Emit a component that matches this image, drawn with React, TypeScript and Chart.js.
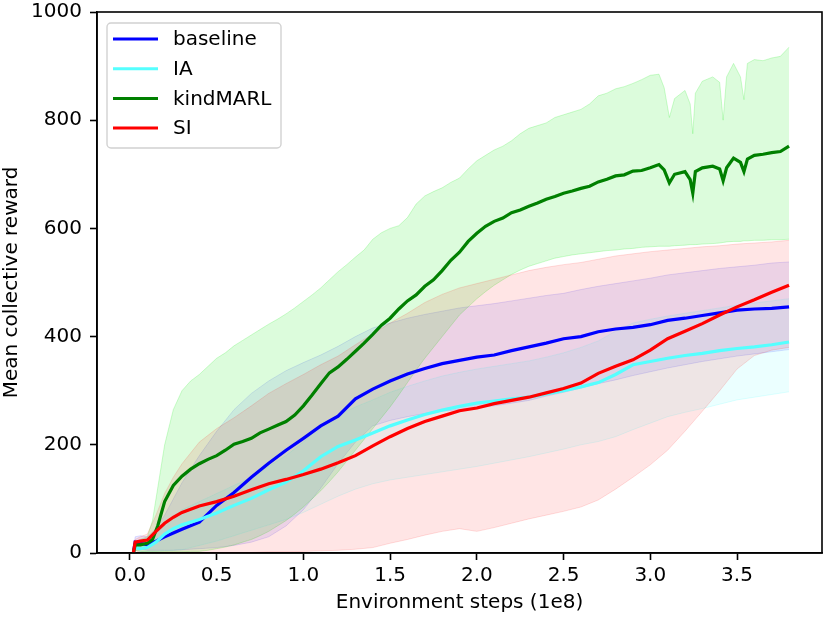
import React, { useEffect, useRef } from "react";
import { Chart, registerables } from "chart.js";

Chart.register(...registerables);

// ---- data (x in units of 1e8 environment steps) ----
const STEPS = [0.02, 0.03, 0.06, 0.1, 0.15, 0.2, 0.25, 0.3, 0.4, 0.5, 0.6, 0.7, 0.8, 0.9, 1.0, 1.1, 1.2, 1.3, 1.4, 1.5, 1.6, 1.7, 1.8, 1.9, 2.0, 2.1, 2.2, 2.3, 2.4, 2.5, 2.6, 2.7, 2.8, 2.9, 3.0, 3.1, 3.2, 3.3, 3.4, 3.5, 3.6, 3.7, 3.8];

const BASE_MEAN = [2, 20, 18, 15, 22, 30, 37, 44, 57, 88, 112, 140, 166, 190, 212, 235, 253, 285, 303, 318, 331, 341, 350, 356, 362, 366, 374, 381, 388, 396, 400, 409, 414, 417, 422, 430, 434, 439, 444, 449, 451, 452, 455];
const BASE_UPPER = [5, 30, 32, 30, 45, 70, 100, 130, 180, 225, 265, 295, 318, 337, 352, 366, 382, 400, 416, 425, 434, 441, 447, 453, 457, 461, 466, 471, 476, 480, 487, 493, 498, 503, 508, 514, 518, 522, 526, 529, 532, 536, 538];
const BASE_LOWER = [0, 10, 8, 5, 5, 5, 5, 6, 8, 10, 14, 20, 30, 50, 80, 120, 165, 205, 235, 245, 252, 258, 262, 265, 268, 272, 277, 282, 290, 297, 305, 313, 320, 328, 335, 342, 348, 354, 359, 364, 368, 372, 376];

const IA_MEAN = [0, 10, 8, 10, 20, 35, 45, 52, 62, 74, 88, 101, 117, 131, 152, 178, 197, 209, 222, 235, 246, 256, 264, 271, 277, 281, 285, 288, 294, 300, 307, 315, 330, 348, 354, 360, 365, 369, 374, 378, 381, 385, 390];
const IA_UPPER = [0, 15, 15, 20, 35, 55, 68, 80, 95, 110, 125, 140, 160, 180, 205, 235, 255, 270, 283, 297, 308, 318, 327, 334, 340, 345, 350, 355, 362, 370, 380, 392, 410, 425, 432, 438, 443, 448, 453, 458, 462, 466, 470];
const IA_LOWER = [0, 5, 3, 3, 3, 4, 5, 6, 14, 22, 32, 42, 52, 62, 75, 90, 105, 118, 128, 135, 140, 145, 150, 155, 160, 166, 172, 178, 185, 192, 200, 206, 215, 228, 240, 252, 260, 267, 275, 283, 288, 293, 298];

const SI_MEAN = [0, 20, 22, 24, 40, 55, 66, 75, 87, 95, 105, 117, 128, 136, 145, 155, 167, 180, 198, 215, 230, 243, 253, 263, 268, 276, 282, 288, 296, 304, 314, 332, 345, 357, 375, 396, 410, 424, 440, 455, 468, 482, 495];
const SI_UPPER = [0, 25, 30, 35, 70, 110, 140, 165, 205, 230, 250, 272, 295, 313, 330, 348, 364, 385, 405, 425, 443, 463, 478, 490, 498, 506, 514, 522, 528, 533, 537, 543, 549, 553, 557, 560, 563, 566, 568, 571, 573, 575, 578];
const SI_LOWER = [0, 5, 0, 0, 0, 0, 0, 0, 0, 0, 0, 1, 2, 2, 3, 4, 5, 7, 10, 18, 25, 33, 40, 45, 40, 47, 55, 63, 70, 77, 85, 98, 118, 140, 163, 190, 225, 262, 300, 340, 365, 375, 380];

const KIND_STEPS = [0.02, 0.03, 0.06, 0.1, 0.13, 0.16, 0.2, 0.25, 0.3, 0.35, 0.4, 0.45, 0.5, 0.55, 0.6, 0.65, 0.7, 0.75, 0.8, 0.85, 0.9, 0.95, 1.0, 1.05, 1.1, 1.15, 1.2, 1.25, 1.3, 1.35, 1.4, 1.45, 1.5, 1.55, 1.6, 1.65, 1.7, 1.75, 1.8, 1.85, 1.9, 1.95, 2.0, 2.05, 2.1, 2.15, 2.2, 2.25, 2.3, 2.35, 2.4, 2.45, 2.5, 2.55, 2.6, 2.65, 2.7, 2.75, 2.8, 2.85, 2.9, 2.95, 3.0, 3.05, 3.08, 3.11, 3.14, 3.2, 3.23, 3.245, 3.26, 3.3, 3.36, 3.4, 3.42, 3.44, 3.48, 3.52, 3.54, 3.56, 3.6, 3.65, 3.7, 3.75, 3.8];
const KIND_MEAN = [0, 15, 15, 18, 25, 50, 95, 125, 142, 155, 165, 173, 180, 190, 201, 206, 212, 222, 229, 236, 243, 255, 272, 292, 313, 333, 344, 358, 373, 388, 404, 421, 434, 451, 466, 477, 493, 505, 522, 541, 556, 576, 591, 604, 613, 619, 629, 634, 641, 647, 654, 659, 665, 669, 674, 678, 686, 691, 697, 699, 706, 707, 712, 718, 708, 684, 700, 705, 690, 665, 705, 712, 715, 710, 688, 712, 730, 722, 705, 728, 735, 737, 740, 742, 752];
const KIND_UPPER = [0, 20, 25, 30, 60, 120, 200, 265, 300, 318, 330, 345, 360, 370, 383, 393, 403, 413, 423, 432, 442, 453, 465, 477, 490, 505, 520, 533, 547, 560, 580, 592, 600, 605, 620, 645, 660, 668, 675, 685, 693, 710, 725, 735, 745, 752, 762, 775, 785, 790, 795, 805, 810, 815, 820, 830, 845, 850, 858, 862, 868, 875, 883, 885, 860, 805, 840, 855, 830, 775, 850, 872, 880, 870, 800, 880, 905, 880, 838, 905, 912, 910, 915, 918, 935];
const KIND_LOWER = [0, 5, 3, 2, 2, 2, 2, 2, 2, 3, 3, 5, 8, 11, 15, 20, 25, 32, 40, 50, 60, 72, 85, 100, 115, 132, 150, 170, 190, 210, 230, 250, 270, 292, 315, 338, 360, 380, 400, 420, 440, 455, 470, 483, 495, 505, 515, 523, 530, 535, 540, 545, 548, 551, 553, 555, 557, 559, 560, 562, 563, 565, 566, 567, 567, 567, 568, 569, 570, 570, 570, 571, 572, 573, 574, 575, 576, 576, 577, 577, 578, 578, 579, 579, 580];

const SERIES_NAMES = ["baseline", "IA", "kindMARL", "SI"];
const X_TICKS = [0.0, 0.5, 1.0, 1.5, 2.0, 2.5, 3.0, 3.5];
const X_LABEL = "Environment steps (1e8)";
const Y_LABEL = "Mean collective reward";

const LINE_COLORS = ["#0000ff", "#55ffff", "#008000", "#ff0000"];
const BAND_COLORS = ["rgba(0,0,255,0.085)", "rgba(0,255,255,0.08)", "rgba(20,235,20,0.15)", "rgba(255,0,0,0.10)"];
const BAND_EDGES = ["rgba(0,0,255,0.12)", "rgba(0,255,255,0.12)", "rgba(20,235,20,0.2)", "rgba(255,0,0,0.13)"];

const FONT = "'DejaVu Sans', sans-serif";

const pts = (xs: number[], ys: number[]) => xs.map((x, i) => ({ x, y: ys[i] }));

export default function App() {
  const ref = useRef<HTMLCanvasElement | null>(null);

  useEffect(() => {
    document.body.style.margin = "0";
    const canvas = ref.current;
    if (!canvas) return;

    const groups = [
      { xs: STEPS, mean: BASE_MEAN, up: BASE_UPPER, lo: BASE_LOWER },
      { xs: STEPS, mean: IA_MEAN, up: IA_UPPER, lo: IA_LOWER },
      { xs: KIND_STEPS, mean: KIND_MEAN, up: KIND_UPPER, lo: KIND_LOWER },
      { xs: STEPS, mean: SI_MEAN, up: SI_UPPER, lo: SI_LOWER },
    ];

    const datasets: any[] = [];
    groups.forEach((g, i) => {
      datasets.push({
        label: SERIES_NAMES[i],
        data: pts(g.xs, g.mean),
        borderColor: LINE_COLORS[i],
        backgroundColor: LINE_COLORS[i],
        borderWidth: 3.2,
        pointRadius: 0,
        fill: false,
        tension: 0,
        order: 3 - i,
      });
    });
    groups.forEach((g, i) => {
      const upIdx = datasets.length;
      datasets.push({
        label: SERIES_NAMES[i] + " upper",
        data: pts(g.xs, g.up),
        borderColor: BAND_EDGES[i],
        backgroundColor: BAND_COLORS[i],
        borderWidth: 1,
        pointRadius: 0,
        fill: upIdx + 1,
        tension: 0,
        order: 20 - i,
      });
      datasets.push({
        label: SERIES_NAMES[i] + " lower",
        data: pts(g.xs, g.lo),
        borderColor: BAND_EDGES[i],
        backgroundColor: BAND_COLORS[i],
        borderWidth: 1,
        pointRadius: 0,
        fill: false,
        tension: 0,
        order: 20 - i,
      });
    });

    const framePlugin = {
      id: "frameAndLegend",
      afterDraw(chart: any) {
        const { ctx, chartArea } = chart;
        const { left, top, right, bottom } = chartArea;
        ctx.save();
        ctx.strokeStyle = "#000";
        ctx.lineWidth = 1.6;
        ctx.strokeRect(left, top, right - left, bottom - top);

        const bx = left + 10;
        const by = top + 11;
        const bw = 174;
        const bh = 125;
        const r = 4;
        ctx.beginPath();
        ctx.moveTo(bx + r, by);
        ctx.lineTo(bx + bw - r, by);
        ctx.arcTo(bx + bw, by, bx + bw, by + r, r);
        ctx.lineTo(bx + bw, by + bh - r);
        ctx.arcTo(bx + bw, by + bh, bx + bw - r, by + bh, r);
        ctx.lineTo(bx + r, by + bh);
        ctx.arcTo(bx, by + bh, bx, by + bh - r, r);
        ctx.lineTo(bx, by + r);
        ctx.arcTo(bx, by, bx + r, by, r);
        ctx.closePath();
        ctx.fillStyle = "rgba(255,255,255,0.8)";
        ctx.fill();
        ctx.strokeStyle = "rgba(204,204,204,0.9)";
        ctx.lineWidth = 1.4;
        ctx.stroke();

        ctx.font = `20px ${FONT}`;
        ctx.textBaseline = "middle";
        ctx.textAlign = "left";
        SERIES_NAMES.forEach((name, i) => {
          const y = top + 27 + i * 29.7;
          ctx.strokeStyle = LINE_COLORS[i];
          ctx.lineWidth = 3;
          ctx.beginPath();
          ctx.moveTo(left + 16, y);
          ctx.lineTo(left + 61, y);
          ctx.stroke();
          ctx.fillStyle = "#000";
          ctx.fillText(name, left + 76, y + 1);
        });
        ctx.restore();
      },
    };

    const chart = new Chart(canvas, {
      type: "line",
      data: { datasets },
      options: {
        animation: false,
        responsive: false,
        maintainAspectRatio: false,
        layout: { padding: { top: 12, right: 8, left: 0, bottom: 0 } },
        plugins: {
          legend: { display: false },
          tooltip: { enabled: false },
          title: { display: false },
        },
        scales: {
          x: {
            type: "linear",
            min: -0.19,
            max: 3.99,
            afterBuildTicks: (scale: any) => {
              scale.ticks = X_TICKS.map((v) => ({ value: v }));
            },
            afterFit: (scale: any) => {
              scale.height = 66;
              scale.paddingLeft = 0;
              scale.paddingRight = 0;
            },
            ticks: {
              color: "#000",
              font: { family: FONT, size: 20 },
              padding: 4,
              maxRotation: 0,
              autoSkip: false,
              callback: (v: any) => Number(v).toFixed(1),
            },
            grid: {
              display: true,
              drawOnChartArea: false,
              drawTicks: true,
              tickLength: 7,
              tickColor: "#000",
              tickWidth: 1.6,
            },
            border: { display: true, color: "#000", width: 1.6 },
            title: {
              display: true,
              text: X_LABEL,
              color: "#000",
              font: { family: FONT, size: 20 },
              padding: { top: 0, bottom: 4 },
            },
          },
          y: {
            type: "linear",
            min: 0,
            max: 1000,
            afterFit: (scale: any) => {
              scale.width = 97;
              scale.paddingTop = 0;
              scale.paddingBottom = 0;
            },
            ticks: {
              stepSize: 200,
              color: "#000",
              font: { family: FONT, size: 20 },
              padding: 8,
              callback: (v: any) => String(v),
            },
            grid: {
              display: true,
              drawOnChartArea: false,
              drawTicks: true,
              tickLength: 7,
              tickColor: "#000",
              tickWidth: 1.6,
            },
            border: { display: true, color: "#000", width: 1.6 },
            title: {
              display: true,
              text: Y_LABEL,
              color: "#000",
              font: { family: FONT, size: 20 },
              padding: { top: 0, bottom: 0 },
            },
          },
        },
      },
      plugins: [framePlugin],
    });

    return () => chart.destroy();
  }, []);

  return (
    <div style={{ width: 830, height: 619 }}>
      <canvas ref={ref} width={830} height={619} style={{ display: "block" }} />
    </div>
  );
}
